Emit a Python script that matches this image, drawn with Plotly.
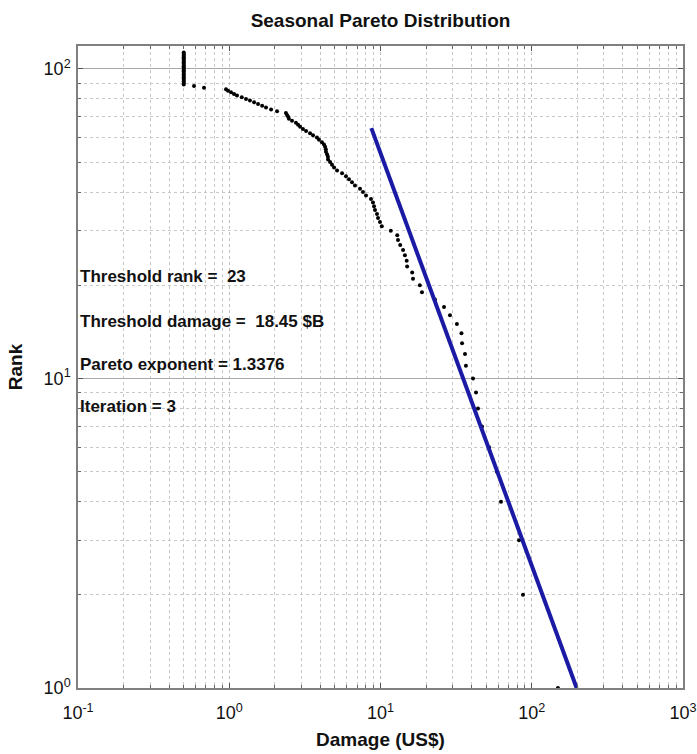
import plotly.graph_objects as go

# Damage (US$ billions) for ranks 1..N (sorted descending)
damage = [
    149.0, 87.5, 82.4, 62.6, 58.9, 52.2, 46.9, 44.1, 42.8, 40.9,
    36.7, 36.2, 34.6, 34.3, 32.0, 28.8, 26.3, 22.9, 18.8, 18.2,
    16.4, 16.2, 15.0, 14.9, 14.5, 14.1, 13.5, 13.05, 12.9, 11.7,
    10.2, 9.92, 9.63, 9.48, 9.20, 9.06, 8.92, 8.65, 8.02, 7.66,
    7.32, 6.78, 6.48, 6.19, 5.91, 5.57, 5.16, 4.93, 4.78, 4.64,
    4.50, 4.49, 4.43, 4.36, 4.35, 4.30, 4.23, 4.10, 3.92, 3.80,
    3.58, 3.42, 3.22, 3.07, 2.94, 2.85, 2.76, 2.60, 2.48, 2.45,
    2.41, 2.37, 2.07, 1.89, 1.75, 1.65, 1.55, 1.46, 1.37, 1.29,
    1.21, 1.125, 1.075, 1.027, 0.981, 0.952, 0.681, 0.585,
    0.5, 0.5, 0.5, 0.5, 0.5, 0.5, 0.5, 0.5, 0.5, 0.5,
    0.5, 0.5, 0.5, 0.5, 0.5, 0.5, 0.5, 0.5, 0.5, 0.5,
    0.5, 0.5, 0.5, 0.5, 0.5,
]
rank = list(range(1, len(damage) + 1))

# Fitted Pareto tail (exponent 1.3376)
fit_damage = [8.7, 198.0]
fit_rank = [64.4, 1.0]

x_tickvals = [0.1, 1, 10, 100, 1000]
x_ticktext = ["10<sup>-1</sup>", "10<sup>0</sup>", "10<sup>1</sup>", "10<sup>2</sup>", "10<sup>3</sup>"]
y_tickvals = [1, 10, 100]
y_ticktext = ["10<sup>0</sup>", "10<sup>1</sup>", "10<sup>2</sup>"]

info_lines = [
    "Threshold rank =\u00a0 23",
    "Threshold damage =\u00a0 18.45 $B",
    "Pareto exponent = 1.3376",
    "Iteration = 3",
]
info_y = [0.641, 0.571, 0.504, 0.438]

x_minor = [m * 10 ** e for e in (-1, 0, 1, 2) for m in range(2, 10)]
y_minor = [m * 10 ** e for e in (0, 1) for m in range(2, 10)]

FONT = "Liberation Sans, Arial, sans-serif"

fig = go.Figure()
fig.add_trace(go.Scatter(
    x=damage, y=rank, mode="markers",
    marker=dict(color="black", size=4, line=dict(width=0)),
    showlegend=False,
))
fig.add_trace(go.Scatter(
    x=fit_damage, y=fit_rank, mode="lines",
    line=dict(color="#1a1aa4", width=4),
    showlegend=False,
))

for txt, yy in zip(info_lines, info_y):
    fig.add_annotation(
        text="<b>" + txt + "</b>", xref="paper", yref="paper",
        x=0.0, y=yy, xanchor="left", yanchor="middle", showarrow=False,
        font=dict(family=FONT, size=17, color="#111"),
    )

fig.update_layout(
    width=697, height=754,
    margin=dict(l=78, r=14, t=46, b=66, autoexpand=False),
    paper_bgcolor="white", plot_bgcolor="white",
    title=dict(text="<b>Seasonal Pareto Distribution</b>", x=0.5, xref="paper",
               xanchor="center", y=0.973, yanchor="middle",
               font=dict(family=FONT, size=19, color="#111")),
    font=dict(family=FONT, color="#111"),
)

fig.update_xaxes(
    type="log", range=[-1, 3], automargin=False,
    tickmode="array", tickvals=x_tickvals, ticktext=x_ticktext,
    tickfont=dict(family=FONT, size=18, color="#111"),
    ticks="inside", ticklen=5, tickcolor="#555", ticklabelstandoff=8,
    showline=True, linecolor="#808080", linewidth=1.5, mirror="ticks",
    showgrid=True, gridcolor="#bdbdbd", griddash="dot", gridwidth=1,
    minor=dict(tickmode="array", tickvals=x_minor, ticks="inside", ticklen=3,
               tickcolor="#666", showgrid=True, gridcolor="#c8c8c8",
               griddash="dot", gridwidth=1),
    title=dict(text="<b>Damage (US$)</b>", font=dict(family=FONT, size=19, color="#111"),
               standoff=10),
    zeroline=False,
)
fig.update_yaxes(
    type="log", range=[0, 2.074], automargin=False,
    tickmode="array", tickvals=y_tickvals, ticktext=y_ticktext,
    tickfont=dict(family=FONT, size=18, color="#111"),
    ticks="inside", ticklen=5, tickcolor="#555", ticklabelstandoff=2,
    showline=True, linecolor="#808080", linewidth=1.5, mirror="ticks",
    showgrid=True, gridcolor="#a8a8a8", gridwidth=1,
    minor=dict(tickmode="array", tickvals=y_minor, ticks="inside", ticklen=3,
               tickcolor="#666", showgrid=True, gridcolor="#c8c8c8",
               griddash="dot", gridwidth=1),
    title=dict(text="<b>Rank</b>", font=dict(family=FONT, size=19, color="#111"),
               standoff=16),
    zeroline=False,
)

fig.write_html("out.html")
